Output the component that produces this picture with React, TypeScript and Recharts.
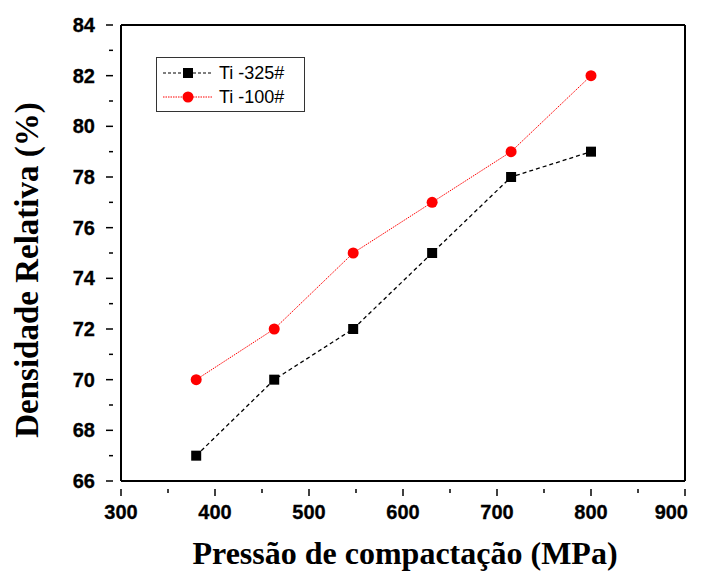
import React from 'react';
import { LineChart, Line, XAxis, YAxis, ReferenceLine, Label } from 'recharts';

// pressure values (MPa)
const pressures = [380, 463, 547, 631, 715, 800];
// relative density (%)
const ti325 = [67, 70, 72, 75, 78, 79];
const ti100 = [70, 72, 75, 77, 79, 82];

const xTicks = [300, 350, 400, 450, 500, 550, 600, 650, 700, 750, 800, 850, 900];
const yTicks = [66, 67, 68, 69, 70, 71, 72, 73, 74, 75, 76, 77, 78, 79, 80, 81, 82, 83, 84];

const data = pressures.map((p, i) => ({ p, a: ti325[i], b: ti100[i] }));

const tickFont = '"Liberation Sans", Arial, sans-serif';
const titleFont = '"Liberation Serif", "Times New Roman", serif';

const XTick = (props: any) => {
  const { x, y, payload } = props;
  const major = payload.value % 100 === 0;
  // last label is pulled inside the frame, like the original
  const last = payload.value === 900;
  return (
    <g>
      <line x1={x} x2={x} y1={y} y2={y + (major ? 7 : 4)} stroke="#000" strokeWidth={1.5} />
      {major && (
        <text x={last ? x + 3 : x} y={y + 30} textAnchor={last ? 'end' : 'middle'} fill="#000"
          stroke="#000" strokeWidth={0.3}
          style={{ fontFamily: tickFont, fontWeight: 700, fontSize: 20 }}>
          {payload.value}
        </text>
      )}
    </g>
  );
};

const YTick = (props: any) => {
  const { x, y, payload } = props;
  const major = payload.value % 2 === 0;
  return (
    <g>
      <line x1={x} x2={x - (major ? 7 : 4)} y1={y} y2={y} stroke="#000" strokeWidth={1.5} />
      {major && (
        <text x={x - 18} y={y + 7} textAnchor="end" fill="#000"
          stroke="#000" strokeWidth={0.3}
          style={{ fontFamily: tickFont, fontWeight: 700, fontSize: 20 }}>
          {payload.value}
        </text>
      )}
    </g>
  );
};

const LegendBox = () => (
  <div
    style={{
      position: 'absolute',
      left: 148,
      top: 49,
      border: '1px solid #333',
      background: '#fff',
      width: 147,
      height: 53,
      fontFamily: tickFont,
      fontSize: 18,
      lineHeight: '20px',
    }}
  >
    <div style={{ display: 'flex', alignItems: 'center', height: 24, marginTop: 3 }}>
      <svg width={58} height={20}>
        <line x1={6} x2={56} y1={10} y2={10} stroke="#000" strokeWidth={1.2} strokeDasharray="3 2" />
        <rect x={26} y={5} width={10} height={10} fill="#000" />
      </svg>
      <span style={{ marginLeft: 4 }}>Ti -325#</span>
    </div>
    <div style={{ display: 'flex', alignItems: 'center', height: 24 }}>
      <svg width={58} height={20}>
        <line x1={6} x2={56} y1={10} y2={10} stroke="#f00" strokeWidth={1} strokeDasharray="1.5 1" />
        <circle cx={31} cy={10} r={5.5} fill="#f00" />
      </svg>
      <span style={{ marginLeft: 4 }}>Ti -100#</span>
    </div>
  </div>
);

export default function App() {
  return (
    <div style={{ width: 696, height: 563, position: 'relative' }}>
      <LineChart width={696} height={563} data={data} margin={{ top: 17, right: 19, bottom: 0, left: 0 }}>
        <XAxis
          dataKey="p"
          type="number"
          domain={[300, 900]}
          ticks={xTicks}
          interval={0}
          tick={<XTick />}
          tickLine={false}
          axisLine={{ stroke: '#000', strokeWidth: 2 }}
          height={90}
        >
          <Label
            content={() => (
              <text x={397} y={556} textAnchor="middle" fill="#000"
                style={{ fontFamily: titleFont, fontWeight: 700, fontSize: 32 }}>
                Pressão de compactação (MPa)
              </text>
            )}
          />
        </XAxis>
        <YAxis
          type="number"
          domain={[66, 84]}
          ticks={yTicks}
          interval={0}
          tick={<YTick />}
          tickLine={false}
          axisLine={{ stroke: '#000', strokeWidth: 2 }}
          width={113}
        >
          <Label
            content={() => (
              <text
                x={30}
                y={262}
                transform="rotate(-90 30 262)"
                textAnchor="middle"
                fill="#000"
                style={{ fontFamily: titleFont, fontWeight: 700, fontSize: 33 }}
              >
                Densidade Relativa (%)
              </text>
            )}
          />
        </YAxis>
        <ReferenceLine y={84} stroke="#000" strokeWidth={2} />
        <ReferenceLine x={900} stroke="#000" strokeWidth={2} />
        <Line
          dataKey="a"
          stroke="#000"
          strokeWidth={1.3}
          strokeDasharray="4 3"
          isAnimationActive={false}
          dot={(p: any) => <rect key={p.index} x={p.cx - 5} y={p.cy - 5} width={10} height={10} fill="#000" />}
        />
        <Line
          dataKey="b"
          stroke="#f00"
          strokeWidth={1}
          strokeDasharray="1.5 1"
          isAnimationActive={false}
          dot={(p: any) => <circle key={p.index} cx={p.cx} cy={p.cy} r={5.5} fill="#f00" />}
        />
      </LineChart>
      <LegendBox />
    </div>
  );
}
